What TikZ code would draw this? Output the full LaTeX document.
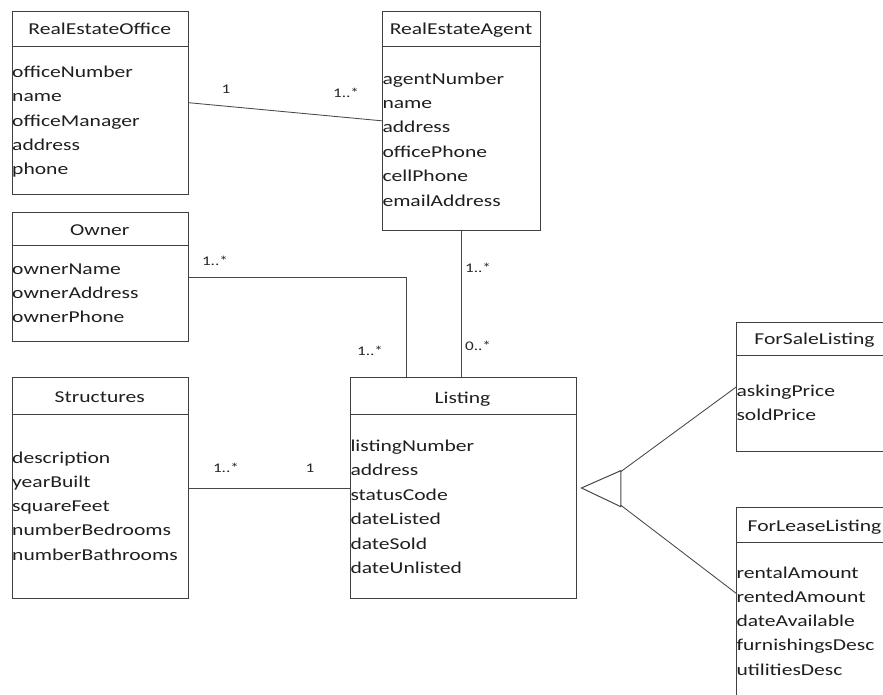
\documentclass[tikz,border=0pt]{standalone}
\usepackage{fontspec}
\setmainfont{Carlito}[FakeStretch=1.3]
\usetikzlibrary{calc}
\tikzset{
  umlbox/.style={draw=black!75, line width=0.95pt, rectangle, inner sep=0pt, anchor=north west},
  hdr/.style={anchor=base, inner sep=0pt, text=black!88, font=\fontsize{16.6}{19}\selectfont},
  attr/.style={anchor=base west, inner sep=0pt, text=black!88, font=\fontsize{16.6}{19}\selectfont},
  lbl/.style={anchor=base, inner sep=0pt, text=black!85, font=\fontsize{13.2}{15}\selectfont},
  conn/.style={draw=black!72, line width=0.85pt},
  divl/.style={draw=black!75, line width=0.95pt}
}
\begin{document}
\begin{tikzpicture}[x=1pt,y=-1pt]
\clip (0,0) rectangle (883,694);
\fill[white] (0,0) rectangle (883,694);

% boxes
\node[umlbox, minimum width=176.5pt, minimum height=183.5pt] (office) at (11.5,10.5) {};
\node[umlbox, minimum width=158pt, minimum height=219.3pt] (agent) at (382,10.7) {};
\node[umlbox, minimum width=176.5pt, minimum height=128.7pt] (owner) at (11.5,212.3) {};
\node[umlbox, minimum width=176.5pt, minimum height=220.4pt] (struct) at (11.5,377.3) {};
\node[umlbox, minimum width=225.5pt, minimum height=220.4pt] (listing) at (350,377.3) {};
\node[umlbox, minimum width=157pt, minimum height=128.7pt] (forsale) at (736,322.3) {};
\node[umlbox, minimum width=157pt, minimum height=200pt] (forlease) at (736,506.7) {};

% dividers
\draw[divl] ([yshift=-36.3pt]office.north west) -- ([yshift=-36.3pt]office.north east);
\draw[divl] ([yshift=-36pt]agent.north west) -- ([yshift=-36pt]agent.north east);
\draw[divl] ([yshift=-32.7pt]owner.north west) -- ([yshift=-32.7pt]owner.north east);
\draw[divl] ([yshift=-36.7pt]struct.north west) -- ([yshift=-36.7pt]struct.north east);
\draw[divl] ([yshift=-36.7pt]listing.north west) -- ([yshift=-36.7pt]listing.north east);
\draw[divl] ([yshift=-32.7pt]forsale.north west) -- ([yshift=-32.7pt]forsale.north east);
\draw[divl] ([yshift=-36pt]forlease.north west) -- ([yshift=-36pt]forlease.north east);

% headers
\node[hdr] (officeT) at (99.75,34.5) {RealEstateOffice};
\node[hdr] (agentT) at (461,34.8) {RealEstateAgent};
\node[hdr] (ownerT) at (99.75,235) {Owner};
\node[hdr] (structT) at (99.75,402.3) {Structures};
\node[hdr] (listingT) at (462.5,403) {Listing};
\node[hdr] (forsaleT) at (814.5,344.3) {ForSaleListing};
\node[hdr] (forleaseT) at (814.5,531) {ForLeaseListing};

% attributes
\foreach \t [count=\i] in {officeNumber,name,officeManager,address,phone}
  \node[attr] (officeA\i) at (12,{77.3+24.4*(\i-1)}) {\t};
\foreach \t [count=\i] in {agentNumber,name,address,officePhone,cellPhone,emailAddress}
  \node[attr] (agentA\i) at (382.3,{84+24.4*(\i-1)}) {\t};
\foreach \t [count=\i] in {ownerName,ownerAddress,ownerPhone}
  \node[attr] (ownerA\i) at (12,{274.3+24.2*(\i-1)}) {\t};
\foreach \t [count=\i] in {description,yearBuilt,squareFeet,numberBedrooms,numberBathrooms}
  \node[attr] (structA\i) at (12,{463.3+24.2*(\i-1)}) {\t};
\foreach \t [count=\i] in {listingNumber,address,statusCode,dateListed,dateSold,dateUnlisted}
  \node[attr] (listingA\i) at (350.3,{451+24.5*(\i-1)}) {\t};
\foreach \t [count=\i] in {askingPrice,soldPrice}
  \node[attr] (forsaleA\i) at (736.3,{396+24*(\i-1)}) {\t};
\foreach \t [count=\i] in {rentalAmount,rentedAmount,dateAvailable,furnishingsDesc,utilitiesDesc}
  \node[attr] (forleaseA\i) at (736.3,{578.3+24.2*(\i-1)}) {\t};

% connectors
\draw[conn] (office.east) -- (agent.west);
\coordinate (ownerIn) at ($(listing.north west)+(56,0)$);
\draw[conn] (owner.east) -| (ownerIn);
\draw[conn] (agent.south) -- (agent.south |- listing.north);
\draw[conn] (struct.east) -- (listing.west);

% generalization
\coordinate (apex) at ($(listing.east)+(5,0)$);
\coordinate (triTop) at ($(apex)+(39.3,-17.3)$);
\coordinate (triBot) at ($(apex)+(39.3,18.7)$);
\coordinate (leaseIn) at ($(forlease.north west)+(0,86.5)$);
\draw[conn, line width=1pt, line join=miter] (apex) -- (triTop) -- (triBot) -- cycle;
\draw[conn] ($(triTop)+(0,1)$) -- (forsale.west);
\draw[conn] ($(triBot)+(0,-1.5)$) -- (leaseIn);

% multiplicities
\node[lbl] (m1) at (226,93.3) {1};
\node[lbl] (m2) at (346,97.7) {1..*};
\node[lbl] (m3) at (215,265) {1..*};
\node[lbl] (m4) at (370,355) {1..*};
\node[lbl] (m5) at (478,272.3) {1..*};
\node[lbl] (m6) at (478,350) {0..*};
\node[lbl] (m7) at (226,472.5) {1..*};
\node[lbl] (m8) at (310,472.5) {1};
\end{tikzpicture}
\end{document}
